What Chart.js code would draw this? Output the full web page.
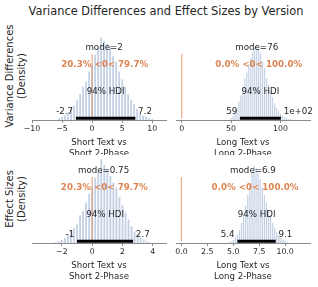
<!DOCTYPE html>
<html>
<head>
<meta charset="utf-8">
<script src="https://cdn.jsdelivr.net/npm/chart.js@4.4.1/dist/chart.umd.min.js"></script>
<style>
  body { margin: 0; background: #fff; font-family: "DejaVu Sans", sans-serif; color: #262626; }
  #wrap { position: relative; width: 318px; height: 287px; overflow: hidden; }
  #title { position: absolute; left: 0; top: 4px; width: 332px; text-align: center; font-size: 11.4px; line-height: 14px; }
  .ylab { position: absolute; width: 140px; height: 24px; font-size: 10px; line-height: 12px; text-align: center; transform: rotate(-90deg); white-space: nowrap; }
  .panel { position: absolute; }
</style>
</head>
<body>
<div id="wrap">
  <div id="title">Variance Differences and Effect Sizes by Version</div>
  <div class="ylab" style="left:-54px; top:63.5px">Variance Differences<br>(Density)</div>
  <div class="ylab" style="left:-54px; top:186.5px">Effect Sizes<br>(Density)</div>
  <div class="panel" style="left:17px; top:31.5px"><canvas id="c1"></canvas></div>
  <div class="panel" style="left:160.5px; top:31.5px"><canvas id="c2"></canvas></div>
  <div class="panel" style="left:17px; top:154.5px"><canvas id="c3"></canvas></div>
  <div class="panel" style="left:160.5px; top:154.5px"><canvas id="c4"></canvas></div>
</div>
<script>
// --- data ---
// variance difference, short text vs short 2-phase
const varShortBins = [-5.5,-5,-4.5,-4,-3.5,-3,-2.5,-2,-1.5,-1,-0.5,0,0.5,1,1.5,2,2.5,3,3.5,4,4.5,5,5.5,6,6.5,7,7.5,8,8.5,9,9.5,10]
const varShortDens = [0.003,0.006,0.009,0.014,0.020,0.026,0.036,0.047,0.061,0.070,0.088,0.100,0.118,0.131,0.150,0.144,0.138,0.134,0.116,0.106,0.088,0.074,0.061,0.047,0.036,0.029,0.020,0.012,0.008,0.006,0.003,0.002]
// variance difference, long text vs long 2-phase
const varLongBins = [50,52,54,56,58,60,62,64,66,68,70,72,74,76,78,80,82,84,86,88,90,92,94,96,98,100,102,104,106,108,110,112]
const varLongDens = [0.001,0.002,0.004,0.006,0.009,0.012,0.016,0.020,0.023,0.027,0.030,0.033,0.035,0.036,0.034,0.032,0.028,0.025,0.020,0.017,0.014,0.011,0.008,0.006,0.0045,0.003,0.002,0.0015,0.001,0.0007,0.0005,0.0003]
// effect size, short
const effShortBins = [-2.4,-2.2,-2,-1.8,-1.6,-1.4,-1.2,-1,-0.8,-0.6,-0.4,-0.2,0,0.2,0.4,0.6,0.8,1,1.2,1.4,1.6,1.8,2,2.2,2.4,2.6,2.8,3,3.2,3.4,3.6,3.8]
const effShortDens = [0.004,0.008,0.016,0.025,0.041,0.057,0.075,0.090,0.135,0.156,0.197,0.240,0.271,0.320,0.349,0.410,0.381,0.361,0.328,0.295,0.271,0.226,0.185,0.148,0.115,0.082,0.057,0.041,0.025,0.016,0.008,0.004]
// effect size, long
const effLongBins = [4.6,4.8,5,5.2,5.4,5.6,5.8,6,6.2,6.4,6.6,6.8,7,7.2,7.4,7.6,7.8,8,8.2,8.4,8.6,8.8,9,9.2,9.4,9.6,9.8,10,10.2,10.4]
const effLongDens = [0.004,0.008,0.016,0.028,0.044,0.068,0.104,0.144,0.192,0.248,0.312,0.368,0.400,0.388,0.360,0.328,0.288,0.248,0.208,0.168,0.136,0.104,0.080,0.056,0.040,0.028,0.016,0.010,0.006,0.003]

// summary numbers printed on each panel
const modes = [2, 76, 0.75, 6.9]
const modeText = ['mode=2', 'mode=76', 'mode=0.75', 'mode=6.9']
const means = [2.1, 78, 0.8, 7.1]
const refVals = [0, 0, 0, 0]
const refText = ['20.3% <0< 79.7%', '0.0% <0< 100.0%', '20.3% <0< 79.7%', '0.0% <0< 100.0%']
const hdiLow = [-2.7, 59, -1, 5.4]
const hdiHigh = [7.2, 100.5, 2.7, 9.1]
const hdiLowText = ['-2.7', '59', '-1', '5.4']
const hdiHighText = ['7.2', '1e+02', '2.7', '9.1']
const yTops = [0.16, 0.0425, 0.43, 0.455]
const xMins = [-10, -5.8, -3.97, -0.52]
const xMaxs = [12.3, 130, 4.87, 12.4]
const xSteps = [5, 50, 2, 2.5]
const xTitles = [['Short Text vs', 'Short 2-Phase'], ['Long Text vs', 'Long 2-Phase'],
                 ['Short Text vs', 'Short 2-Phase'], ['Long Text vs', 'Long 2-Phase']]

const BLUE = 'rgba(76,114,176,0.33)'
const ORANGE = '#dd8452'
const INK = '#262626'
const AXW = 134, AXH = 88, XH = 40, PAD = 15

// ArviZ-style annotations, placed at fractions of the plot height
const posteriorNotes = {
  id: 'posteriorNotes',
  beforeDraw(chart) {
    const a = chart.chartArea, ctx = chart.ctx
    ctx.save()
    ctx.fillStyle = '#fff'
    ctx.fillRect(a.left, a.top, a.right - a.left, a.bottom - a.top)
    ctx.restore()
  },
  afterDatasetsDraw(chart, args, o) {
    const ctx = chart.ctx, xs = chart.scales.x, a = chart.chartArea
    const h = a.bottom - a.top
    const yAt = f => a.bottom - f * h
    const i = o.idx
    ctx.save()
    // reference line
    const rx = xs.getPixelForValue(refVals[i])
    ctx.strokeStyle = 'rgba(221,132,82,0.65)'
    ctx.lineWidth = 1.3
    ctx.beginPath(); ctx.moveTo(rx, yAt(0.02)); ctx.lineTo(rx, yAt(0.75)); ctx.stroke()
    // hdi bar
    ctx.strokeStyle = '#000'
    ctx.lineWidth = 3
    ctx.lineCap = 'butt'
    ctx.beginPath()
    ctx.moveTo(xs.getPixelForValue(hdiLow[i]), yAt(0.02))
    ctx.lineTo(xs.getPixelForValue(hdiHigh[i]), yAt(0.02))
    ctx.stroke()
    // texts
    ctx.font = '8.7px "DejaVu Sans"'
    ctx.fillStyle = INK
    ctx.textBaseline = 'alphabetic'
    ctx.textAlign = 'center'
    ctx.fillText(modeText[i], xs.getPixelForValue(modes[i]), yAt(0.8))
    ctx.fillText('94% HDI', xs.getPixelForValue((hdiLow[i] + hdiHigh[i]) / 2), yAt(0.3))
    ctx.textAlign = 'right'
    ctx.fillText(hdiLowText[i] + ' ', xs.getPixelForValue(hdiLow[i]), yAt(0.07))
    ctx.textAlign = 'left'
    ctx.fillText(' ' + hdiHighText[i], xs.getPixelForValue(hdiHigh[i]), yAt(0.07))
    ctx.font = 'bold 8.7px "DejaVu Sans"'
    ctx.fillStyle = ORANGE
    ctx.textAlign = 'center'
    ctx.fillText(refText[i], xs.getPixelForValue(means[i]), yAt(0.6))
    ctx.restore()
  }
}

function makePanel(canvasId, idx, bins, dens) {
  const cv = document.getElementById(canvasId)
  const w = AXW + 2 * PAD, hgt = AXH + XH
  cv.width = w; cv.height = hgt
  cv.style.width = w + 'px'; cv.style.height = hgt + 'px'
  const points = bins.map((b, k) => ({x: b, y: dens[k]}))
  new Chart(cv, {
    type: 'bar',
    data: { datasets: [{ data: points, backgroundColor: BLUE, barPercentage: 0.6, categoryPercentage: 1 }] },
    plugins: [posteriorNotes],
    options: {
      responsive: false,
      animation: false,
      layout: { padding: { left: PAD, right: PAD, top: 0, bottom: 0 } },
      plugins: { legend: { display: false }, tooltip: { enabled: false }, posteriorNotes: { idx: idx } },
      scales: {
        x: {
          type: 'linear',
          offset: false,
          min: xMins[idx], max: xMaxs[idx],
          afterFit: s => { s.height = XH },
          border: { display: true, color: '#8a8a8a', width: 1 },
          grid: { display: true, offset: false, drawOnChartArea: false, drawTicks: true, tickLength: 3, color: '#8a8a8a' },
          ticks: {
            stepSize: xSteps[idx], includeBounds: false, autoSkip: false, maxRotation: 0, padding: 1,
            color: INK, font: { family: 'DejaVu Sans', size: 7.8 },
            callback: v => (idx === 3 ? v.toFixed(1) : String(v)).replace('-', '\u2212')
          },
          title: {
            display: true, text: xTitles[idx], color: INK,
            font: { family: 'DejaVu Sans', size: 8.6, lineHeight: 1.28 },
            padding: { top: 0, bottom: 0.5 }
          }
        },
        y: { display: false, min: 0, max: yTops[idx] }
      }
    }
  })
}

makePanel('c1', 0, varShortBins, varShortDens)
makePanel('c2', 1, varLongBins, varLongDens)
makePanel('c3', 2, effShortBins, effShortDens)
makePanel('c4', 3, effLongBins, effLongDens)
</script>
</body>
</html>
